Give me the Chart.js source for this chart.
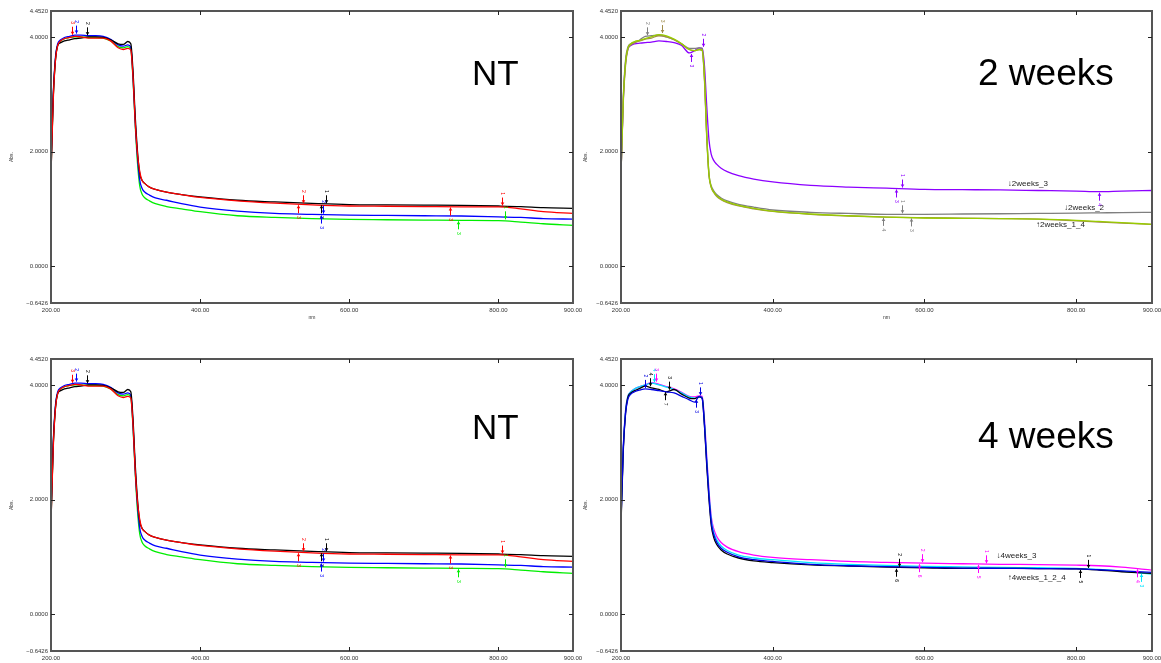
<!DOCTYPE html>
<html>
<head>
<meta charset="utf-8">
<script src="https://cdn.jsdelivr.net/npm/chart.js@4.4.1/dist/chart.umd.min.js"></script>
<style>
  body { margin: 0; background: #fff; }
  #wrap { position: relative; width: 1161px; height: 663px; overflow: hidden; font-family: Arial, "Liberation Sans", sans-serif; }
  .panel { position: absolute; }
  .tag { position: absolute; font-size: 35px; line-height: 1; color: #000; white-space: nowrap; }
  .tag.wk { font-size: 37px; }
</style>
</head>
<body>
<div id="wrap">
  <div class="panel" style="left:0;top:0;width:600px;height:330px"><canvas id="c1"></canvas></div>
  <div class="panel" style="left:580px;top:0;width:581px;height:330px"><canvas id="c2"></canvas></div>
  <div class="panel" style="left:0;top:330px;width:600px;height:333px"><canvas id="c3"></canvas></div>
  <div class="panel" style="left:580px;top:330px;width:581px;height:333px"><canvas id="c4"></canvas></div>
  <div class="tag" style="left:472px;top:55px">NT</div>
  <div class="tag wk" style="left:978px;top:54px">2 weeks</div>
  <div class="tag" style="left:472px;top:409px">NT</div>
  <div class="tag wk" style="left:978px;top:417px">4 weeks</div>
</div>
<script>
// wavelengths (nm) shared by all spectra
const nm = [200, 203, 206, 209, 213, 218, 225, 232, 240, 250, 260, 270, 280, 290, 297, 303, 307, 310, 313, 316,
            319, 322, 326, 332, 340, 355, 375, 400, 450, 500, 550, 600, 650, 700, 750, 800, 830, 860, 900];

const xTicks = [200, 400, 600, 800, 900];
const yTicks = [-0.6426, 0, 2, 4, 4.452];

// NT
const ntRed   = [1.60, 2.90, 3.60, 3.85, 3.93, 3.97, 3.99, 4.01, 4.00, 3.98, 3.98, 3.98, 3.93, 3.81, 3.78, 3.80, 3.77, 3.30, 2.50, 1.95,
                 1.65, 1.50, 1.44, 1.38, 1.34, 1.29, 1.25, 1.20, 1.14, 1.10, 1.07, 1.05, 1.045, 1.04, 1.035, 1.035, 1.00, 0.95, 0.92];
const ntBlack = [1.60, 2.95, 3.60, 3.85, 3.90, 3.93, 3.95, 3.97, 3.98, 4.00, 4.00, 3.99, 3.95, 3.88, 3.87, 3.92, 3.88, 3.40, 2.60, 2.00,
                 1.62, 1.50, 1.44, 1.38, 1.34, 1.29, 1.25, 1.21, 1.15, 1.12, 1.095, 1.075, 1.07, 1.065, 1.06, 1.05, 1.04, 1.02, 1.01];
const ntBlue  = [1.70, 3.00, 3.65, 3.88, 3.95, 3.99, 4.01, 4.03, 4.03, 4.02, 4.02, 4.01, 3.96, 3.86, 3.84, 3.86, 3.82, 3.30, 2.50, 1.90,
                 1.50, 1.36, 1.29, 1.24, 1.19, 1.15, 1.09, 1.03, 0.96, 0.92, 0.905, 0.89, 0.885, 0.88, 0.875, 0.86, 0.85, 0.83, 0.82];
const ntGreen = [1.65, 2.95, 3.62, 3.86, 3.93, 3.97, 3.99, 4.00, 4.00, 3.99, 3.99, 3.98, 3.93, 3.83, 3.81, 3.83, 3.79, 3.25, 2.45, 1.80,
                 1.40, 1.26, 1.19, 1.14, 1.09, 1.04, 1.00, 0.95, 0.88, 0.85, 0.83, 0.815, 0.81, 0.805, 0.80, 0.795, 0.77, 0.74, 0.71];

// 2 weeks
const w2One   = [1.60, 2.90, 3.55, 3.80, 3.88, 3.92, 3.94, 3.97, 4.00, 4.04, 4.02, 3.96, 3.88, 3.78, 3.76, 3.78, 3.77, 3.30, 2.30, 1.60,
                 1.38, 1.30, 1.23, 1.17, 1.12, 1.06, 1.01, 0.96, 0.91, 0.88, 0.855, 0.84, 0.835, 0.83, 0.82, 0.80, 0.78, 0.76, 0.73];
const w2Four  = [1.60, 2.85, 3.50, 3.78, 3.86, 3.90, 3.93, 3.96, 3.98, 4.02, 4.00, 3.95, 3.87, 3.78, 3.76, 3.78, 3.76, 3.25, 2.25, 1.58,
                 1.37, 1.29, 1.22, 1.16, 1.11, 1.05, 1.00, 0.955, 0.905, 0.875, 0.855, 0.845, 0.838, 0.83, 0.82, 0.79, 0.77, 0.75, 0.73];
const w2Two   = [1.60, 2.95, 3.60, 3.82, 3.88, 3.90, 3.95, 4.01, 4.02, 4.03, 4.00, 3.95, 3.88, 3.80, 3.80, 3.81, 3.80, 3.30, 2.30, 1.60,
                 1.40, 1.32, 1.25, 1.19, 1.14, 1.08, 1.03, 0.98, 0.94, 0.92, 0.905, 0.905, 0.91, 0.915, 0.92, 0.925, 0.93, 0.935, 0.94];
const w2Three = [1.60, 2.90, 3.55, 3.78, 3.85, 3.88, 3.89, 3.90, 3.91, 3.93, 3.92, 3.90, 3.85, 3.72, 3.76, 3.81, 3.80, 3.50, 2.80, 2.20,
                 1.95, 1.85, 1.78, 1.71, 1.65, 1.58, 1.52, 1.47, 1.41, 1.38, 1.36, 1.34, 1.335, 1.33, 1.32, 1.31, 1.30, 1.31, 1.32];

// 4 weeks
const w4Blue    = [1.64, 2.90, 3.50, 3.75, 3.84, 3.88, 3.91, 3.93, 3.92, 3.90, 3.88, 3.86, 3.80, 3.74, 3.70, 3.80, 3.76, 3.30, 2.65, 2.05,
                   1.60, 1.40, 1.26, 1.15, 1.08, 1.00, 0.95, 0.92, 0.87, 0.845, 0.83, 0.815, 0.805, 0.80, 0.795, 0.79, 0.775, 0.755, 0.73];
const w4Black   = [1.55, 2.85, 3.50, 3.78, 3.86, 3.90, 3.94, 3.98, 3.95, 3.92, 3.88, 3.92, 3.84, 3.77, 3.76, 3.79, 3.77, 3.30, 2.60, 2.00,
                   1.55, 1.35, 1.22, 1.12, 1.05, 0.98, 0.93, 0.90, 0.86, 0.84, 0.82, 0.81, 0.80, 0.80, 0.795, 0.79, 0.77, 0.74, 0.71];
const w4Cyan    = [1.60, 2.90, 3.55, 3.80, 3.88, 3.93, 3.97, 4.00, 4.03, 4.00, 3.96, 3.92, 3.86, 3.79, 3.77, 3.79, 3.78, 3.35, 2.70, 2.10,
                   1.65, 1.44, 1.30, 1.19, 1.11, 1.03, 0.98, 0.95, 0.90, 0.87, 0.85, 0.835, 0.825, 0.815, 0.81, 0.80, 0.78, 0.75, 0.70];
const w4Magenta = [1.60, 2.90, 3.55, 3.80, 3.88, 3.93, 3.97, 4.00, 4.04, 4.01, 3.97, 3.93, 3.87, 3.80, 3.79, 3.81, 3.80, 3.40, 2.75, 2.15,
                   1.70, 1.50, 1.36, 1.25, 1.17, 1.09, 1.03, 0.99, 0.95, 0.92, 0.905, 0.89, 0.88, 0.87, 0.865, 0.855, 0.845, 0.82, 0.77];

// peak picks: [nm, Abs, label, colour, arrow direction]
const ntPeaks = [
  [228, 4.02, '3', '#ff0000', 'down'], [234, 4.04, '2', '#0000ff', 'down'], [248, 4.01, '2', '#000000', 'down'],
  [538, 1.08, '2', '#ff0000', 'down'], [531, 1.08, '3', '#ff0000', 'up'], [569, 1.08, '1', '#000000', 'down'],
  [562, 1.08, '3', '#000000', 'up'], [565, 0.90, '2', '#0000ff', 'down'], [562, 0.90, '3', '#0000ff', 'up'],
  [735, 1.04, '3', '#ff0000', 'up'], [746, 0.80, '3', '#00ee00', 'up'], [805, 1.04, '1', '#ff0000', 'down'],
  [809, 0.80, '1', '#00ee00', 'down']
];
const w2Peaks = [
  [234, 4.01, '2', '#7f7f7f', 'down'], [254, 4.05, '3', '#a08c4a', 'down'], [292, 3.72, '3', '#8c00ff', 'up'],
  [308, 3.81, '2', '#8c00ff', 'down'], [571, 1.355, '1', '#8c00ff', 'down'], [563, 1.355, '3', '#8c00ff', 'up'],
  [571, 0.905, '1', '#7f7f7f', 'down'], [545, 0.86, '4', '#7f7f7f', 'up'], [582, 0.85, '3', '#7f7f7f', 'up'],
  [830, 1.30, '4', '#8c00ff', 'up']
];
const w4Peaks = [
  [232, 3.93, '2', '#0000e0', 'down'], [238, 3.96, '4', '#000000', 'down'], [243, 4.03, '4', '#00e5ff', 'down'],
  [246, 4.04, '3', '#ff00ff', 'down'], [263, 3.90, '3', '#000000', 'down'], [258, 3.89, '7', '#000000', 'up'],
  [299, 3.76, '3', '#0000e0', 'up'], [304, 3.80, '1', '#0000e0', 'down'],
  [567, 0.81, '2', '#000000', 'down'], [562, 0.81, '6', '#000000', 'up'], [597, 0.89, '2', '#ff00ff', 'down'],
  [593, 0.89, '6', '#ff00ff', 'up'], [681, 0.87, '1', '#ff00ff', 'down'], [670, 0.875, '5', '#ff00ff', 'up'],
  [816, 0.79, '1', '#000000', 'down'], [805, 0.79, '5', '#000000', 'up'], [880, 0.80, '4', '#ff00ff', 'up'],
  [885, 0.72, '3', '#00e5ff', 'up']
];

// curve name notes: [text, nm, Abs]
const w2Notes = [['\u21932weeks_3', 710, 1.43], ['\u21932weeks_2', 784, 1.01], ['\u21912weeks_1_4', 747, 0.72]];
const w4Notes = [['\u21934weeks_3', 695, 1.01], ['\u21914weeks_1_2_4', 710, 0.64]];

const toPts = arr => nm.map((x, i) => ({ x: x, y: arr[i] }));

// frame with inward ticks on all four sides
const framePlugin = {
  id: 'frame',
  afterDatasetsDraw(chart) {
    const { ctx, chartArea: a, scales: { x, y } } = chart;
    ctx.save();
    ctx.strokeStyle = '#555';
    ctx.lineWidth = 2;
    ctx.strokeRect(a.left, a.top, a.right - a.left, a.bottom - a.top);
    ctx.lineWidth = 1;
    ctx.strokeStyle = '#222';
    ctx.beginPath();
    xTicks.slice(1, -1).forEach(v => {
      const px = Math.round(x.getPixelForValue(v)) + 0.5;
      ctx.moveTo(px, a.bottom); ctx.lineTo(px, a.bottom - 4);
      ctx.moveTo(px, a.top); ctx.lineTo(px, a.top + 4);
    });
    yTicks.slice(1, -1).forEach(v => {
      const py = Math.round(y.getPixelForValue(v)) + 0.5;
      ctx.moveTo(a.left, py); ctx.lineTo(a.left + 4, py);
      ctx.moveTo(a.right, py); ctx.lineTo(a.right - 4, py);
    });
    ctx.stroke();
    ctx.restore();
  }
};

// peak arrows and curve names
const peaksPlugin = {
  id: 'peaks',
  afterDatasetsDraw(chart, args, opts) {
    const { ctx, scales: { x, y } } = chart;
    ctx.save();
    (opts.list || []).forEach(([w, v, lab, col, dir]) => {
      const px = Math.round(x.getPixelForValue(w)) + 0.5;
      const py = y.getPixelForValue(v);
      const s = dir === 'down' ? -1 : 1;
      ctx.strokeStyle = col;
      ctx.fillStyle = col;
      ctx.lineWidth = 1;
      ctx.beginPath();
      ctx.moveTo(px, py + s * 9);
      ctx.lineTo(px, py + s * 1);
      ctx.stroke();
      ctx.beginPath();
      ctx.moveTo(px, py + s * 1);
      ctx.lineTo(px - 1.8, py + s * 4);
      ctx.lineTo(px + 1.8, py + s * 4);
      ctx.closePath();
      ctx.fill();
      ctx.save();
      ctx.translate(px, py + s * 13);
      ctx.rotate(Math.PI / 2);
      ctx.font = '5px Arial, "Liberation Sans"';
      ctx.textAlign = 'center';
      ctx.textBaseline = 'middle';
      ctx.fillText(lab, 0, 0);
      ctx.restore();
    });
    ctx.fillStyle = '#222';
    ctx.font = '8px Arial, "Liberation Sans"';
    ctx.textAlign = 'left';
    ctx.textBaseline = 'middle';
    (opts.notes || []).forEach(([t, w, v]) => {
      ctx.fillText(t, x.getPixelForValue(w), y.getPixelForValue(v));
    });
    ctx.restore();
  }
};

function makePanel(id, datasets, peaks, notes, box) {
  const tickFont = { size: 6, family: 'Arial, "Liberation Sans"' };
  new Chart(document.getElementById(id), {
    type: 'line',
    data: { datasets: datasets.map(d => ({
      label: d.label, data: toPts(d.values), borderColor: d.color, borderWidth: 1.3,
      pointRadius: 0, cubicInterpolationMode: 'monotone', fill: false
    })) },
    options: {
      responsive: true,
      maintainAspectRatio: false,
      animation: false,
      layout: { padding: { left: 0, right: box.right, top: box.top, bottom: 0 } },
      plugins: { legend: { display: false }, tooltip: { enabled: false }, peaks: { list: peaks, notes: notes } },
      scales: {
        x: {
          type: 'linear', min: 200, max: 900,
          afterBuildTicks: s => { s.ticks = xTicks.map(v => ({ value: v })); },
          afterFit: s => { s.height = box.xh; s.paddingLeft = 0; s.paddingRight = 0; },
          ticks: { callback: v => v.toFixed(2), font: tickFont, color: '#333', padding: 4, maxRotation: 0, autoSkip: false },
          grid: { display: false, drawTicks: false, tickLength: 0 }, border: { display: false },
          title: { display: box.nm, text: 'nm', font: { size: 5 }, color: '#333', padding: { top: 0, bottom: 9 } }
        },
        y: {
          type: 'linear', min: -0.6426, max: 4.452,
          afterBuildTicks: s => { s.ticks = yTicks.map(v => ({ value: v })); },
          afterFit: s => { s.width = box.yw; s.paddingTop = 0; s.paddingBottom = 0; },
          ticks: { callback: v => (v < 0 ? '\u2212' + (-v).toFixed(4) : v.toFixed(4)), font: tickFont, color: '#333', padding: 3, autoSkip: false },
          grid: { display: false, drawTicks: false, tickLength: 0 }, border: { display: false },
          title: { display: true, text: 'Abs.', font: { size: 5 }, color: '#333', padding: { top: box.absPad, bottom: 0 } }
        }
      }
    },
    plugins: [framePlugin, peaksPlugin]
  });
}

const ntSeries = [
  { label: 'NT_1', values: ntRed, color: '#ff0000' },
  { label: 'NT_2', values: ntBlack, color: '#000000' },
  { label: 'NT_3', values: ntBlue, color: '#0000ff' },
  { label: 'NT_4', values: ntGreen, color: '#00ee00' }
];
const w2Series = [
  { label: '2weeks_1', values: w2One, color: '#99cc00' },
  { label: '2weeks_4', values: w2Four, color: '#a08c4a' },
  { label: '2weeks_2', values: w2Two, color: '#7f7f7f' },
  { label: '2weeks_3', values: w2Three, color: '#8c00ff' }
];
const w4Series = [
  { label: '4weeks_1', values: w4Blue, color: '#0000e0' },
  { label: '4weeks_2', values: w4Black, color: '#000000' },
  { label: '4weeks_4', values: w4Cyan, color: '#00e5ff' },
  { label: '4weeks_3', values: w4Magenta, color: '#ff00ff' }
];

makePanel('c1', ntSeries, ntPeaks, [], { yw: 51, right: 27, top: 11, xh: 27, nm: true, absPad: 9 });
makePanel('c2', w2Series, w2Peaks, w2Notes, { yw: 41, right: 9, top: 11, xh: 27, nm: true, absPad: 3 });
makePanel('c3', ntSeries, ntPeaks, [], { yw: 51, right: 27, top: 29, xh: 12, nm: false, absPad: 9 });
makePanel('c4', w4Series, w4Peaks, w4Notes, { yw: 41, right: 9, top: 29, xh: 12, nm: false, absPad: 3 });
</script>
</body>
</html>
